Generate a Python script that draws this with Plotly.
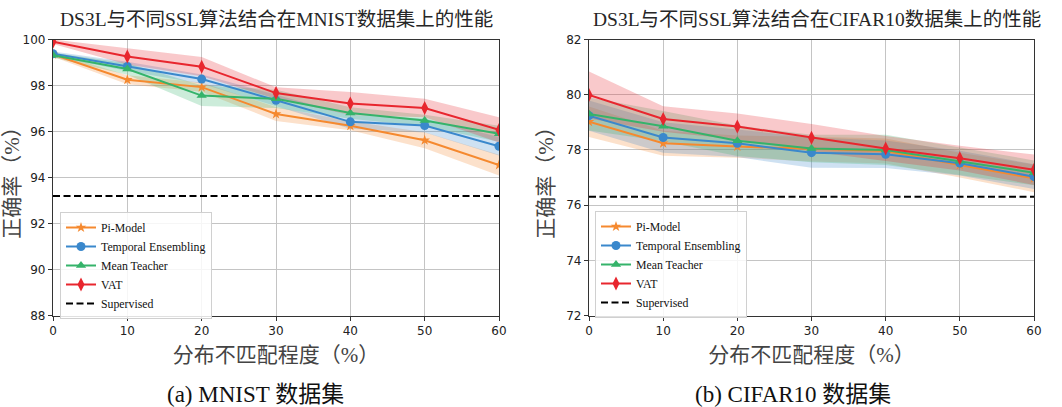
import plotly.graph_objects as go

# Distribution mismatch levels (%)
mismatch = [0, 10, 20, 30, 40, 50, 60]
methods = ["Pi-Model", "Temporal Ensembling", "Mean Teacher", "VAT"]

# MNIST accuracy (%) - mean and std per method
mnist_pi = [99.35, 98.25, 97.93, 96.76, 96.25, 95.62, 94.54]
mnist_te = [99.38, 98.83, 98.28, 97.36, 96.42, 96.26, 95.36]
mnist_mt = [99.32, 98.72, 97.56, 97.42, 96.80, 96.48, 95.90]
mnist_vat = [99.90, 99.26, 98.82, 97.67, 97.22, 97.02, 96.07]
mnist_pi_std = [0.10, 0.20, 0.20, 0.30, 0.20, 0.35, 0.45]
mnist_te_std = [0.10, 0.20, 0.20, 0.25, 0.30, 0.30, 0.40]
mnist_mt_std = [0.10, 0.25, 0.45, 0.40, 0.25, 0.25, 0.35]
mnist_vat_std = [0.10, 0.35, 0.42, 0.25, 0.50, 0.40, 0.55]
mnist_supervised = 93.2

# CIFAR10 accuracy (%) - mean and std per method
cifar_pi = [79.02, 78.24, 78.12, 78.03, 77.96, 77.45, 76.97]
cifar_te = [79.24, 78.45, 78.24, 77.90, 77.84, 77.52, 77.03]
cifar_mt = [79.30, 78.86, 78.33, 78.05, 78.00, 77.59, 77.17]
cifar_vat = [79.99, 79.12, 78.85, 78.44, 78.05, 77.70, 77.28]
cifar_pi_std = [0.55, 0.45, 0.40, 0.45, 0.45, 0.45, 0.50]
cifar_te_std = [0.55, 0.55, 0.50, 0.55, 0.50, 0.45, 0.45]
cifar_mt_std = [0.60, 0.55, 0.55, 0.50, 0.55, 0.50, 0.45]
cifar_vat_std = [0.85, 0.46, 0.47, 0.50, 0.45, 0.45, 0.55]
cifar_supervised = 76.3

colors = ["#f5892f", "#3a88cc", "#35b36a", "#e8262e"]
fills = ["rgba(245,137,47,0.25)", "rgba(58,136,204,0.25)",
         "rgba(53,179,106,0.25)", "rgba(232,38,46,0.25)"]
symbols = ["star", "circle", "triangle-up", "diamond-tall"]
msizes = [8, 9, 9, 10]

SERIF = "Liberation Serif, Noto Sans CJK SC, serif"
SANS = "DejaVu Sans, sans-serif"

fig = go.Figure()


def add_panel(means, stds, sup, xa, ya, legend_name):
    for i, (m, s) in enumerate(zip(means, stds)):
        upper = [a + b for a, b in zip(m, s)]
        lower = [a - b for a, b in zip(m, s)]
        fig.add_trace(go.Scatter(
            x=mismatch + mismatch[::-1], y=upper + lower[::-1],
            fill="toself", fillcolor=fills[i], line=dict(width=0),
            mode="lines", hoverinfo="skip", showlegend=False,
            xaxis=xa, yaxis=ya))
    for i, m in enumerate(means):
        fig.add_trace(go.Scatter(
            x=mismatch, y=m, mode="lines+markers", name=methods[i],
            line=dict(color=colors[i], width=2),
            marker=dict(symbol=symbols[i], size=msizes[i], color=colors[i]),
            legend=legend_name, xaxis=xa, yaxis=ya))
    fig.add_trace(go.Scatter(
        x=[mismatch[0], mismatch[-1]], y=[sup, sup], mode="lines",
        name="Supervised", line=dict(color="black", width=2, dash="7px,3.5px"),
        legend=legend_name, xaxis=xa, yaxis=ya))


add_panel([mnist_pi, mnist_te, mnist_mt, mnist_vat],
          [mnist_pi_std, mnist_te_std, mnist_mt_std, mnist_vat_std],
          mnist_supervised, "x", "y", "legend")
add_panel([cifar_pi, cifar_te, cifar_mt, cifar_vat],
          [cifar_pi_std, cifar_te_std, cifar_mt_std, cifar_vat_std],
          cifar_supervised, "x2", "y2", "legend2")

W, H = 1062, 407
top, bottom = 39.5, 315.5
ydom = [1 - bottom / H, 1 - top / H]

axis_common = dict(
    showgrid=True, gridcolor="#c4c4c4", gridwidth=1,
    showline=True, linecolor="#333333", linewidth=1.3, mirror=True,
    ticks="outside", ticklen=4, tickcolor="#333333",
    tickfont=dict(family=SANS, size=12, color="#222222"),
    zeroline=False, automargin=False,
)

xtitle = dict(text="分布不匹配程度（%）",
              font=dict(family=SERIF, size=21, color="#444444"), standoff=10)
ytitle = dict(text="正确率（%）",
              font=dict(family=SERIF, size=21, color="#444444"), standoff=6)

legend_common = dict(
    xanchor="left", yanchor="top",
    bgcolor="rgba(255,255,255,0.85)", bordercolor="#d0d0d0",
    borderwidth=1, font=dict(family=SERIF, size=11.8, color="#111111"),
    itemwidth=30, tracegroupgap=0,
)


def caption(text, x, y, size, color):
    return dict(text=text, x=x / W, y=1 - y / H, xref="paper", yref="paper",
                xanchor="center", yanchor="middle", showarrow=False,
                font=dict(family=SERIF, size=size, color=color))


fig.update_layout(
    width=W, height=H, margin=dict(l=0, r=0, t=0, b=0),
    plot_bgcolor="white", paper_bgcolor="white",
    xaxis=dict(domain=[53 / W, 499 / W], range=[0, 60], dtick=10,
               title=xtitle, anchor="y", **axis_common),
    yaxis=dict(domain=ydom, range=[88, 100], dtick=2,
               title=ytitle, anchor="x", **axis_common),
    xaxis2=dict(domain=[589 / W, 1034 / W], range=[0, 60], dtick=10,
                title=xtitle, anchor="y2", **axis_common),
    yaxis2=dict(domain=ydom, range=[72, 82], dtick=2,
                title=ytitle, anchor="x2", **axis_common),
    legend=dict(x=60 / W, y=1 - 212 / H, **legend_common),
    legend2=dict(x=595 / W, y=1 - 211 / H, **legend_common),
    annotations=[
        caption("DS3L与不同SSL算法结合在MNIST数据集上的性能", 276, 19, 19.5, "#262626"),
        caption("DS3L与不同SSL算法结合在CIFAR10数据集上的性能", 817, 19, 19.5, "#262626"),
        caption("(a) MNIST 数据集", 255, 394, 23, "#111111"),
        caption("(b) CIFAR10 数据集", 793, 394, 23, "#111111"),
    ],
)

fig.write_html("out.html")
